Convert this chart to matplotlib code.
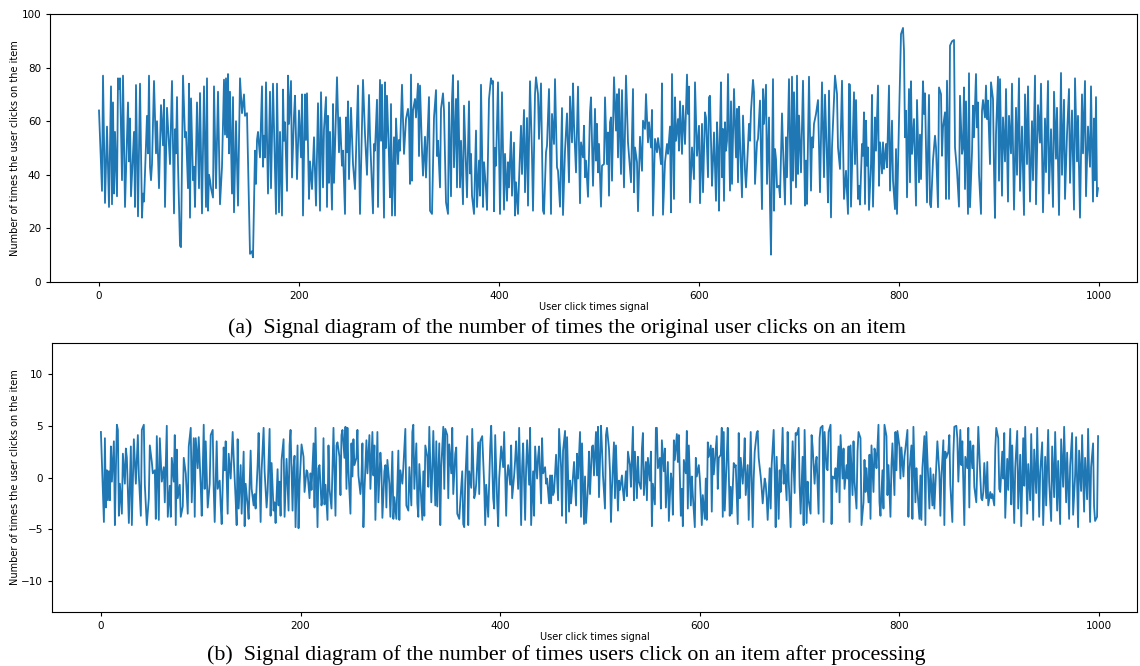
import matplotlib.pyplot as plt

# values (turning points of each trace)
x_raw = [0, 3, 4, 6, 8, 10, 12, 13, 14, 15, 16, 18, 19, 20, 21, 23, 24, 26, 29, 30, 31, 32, 35, 36, 37, 39,
         41, 43, 44, 45, 48, 49, 50, 51, 52, 53, 55, 57, 58, 60, 62, 64, 65, 66, 68, 71, 73, 75, 76, 77, 78, 79,
         81, 82, 84, 86, 87, 89, 90, 91, 92, 94, 95, 96, 98, 100, 101, 103, 105, 107, 108, 109, 110, 111, 112,
         114, 115, 117, 119, 121, 123, 125, 126, 127, 128, 129, 130, 131, 133, 134, 135, 137, 139, 141, 143,
         145, 146, 148, 151, 153, 154, 156, 157, 158, 159, 161, 163, 164, 165, 166, 167, 169, 171, 172, 174,
         177, 178, 180, 181, 183, 184, 185, 186, 188, 189, 190, 192, 193, 195, 196, 198, 200, 202, 203, 204,
         206, 207, 208, 210, 211, 213, 215, 217, 219, 221, 222, 224, 225, 227, 228, 229, 230, 231, 233, 234,
         235, 236, 238, 240, 241, 243, 244, 246, 247, 248, 249, 250, 252, 254, 256, 259, 261, 264, 266, 268,
         270, 271, 274, 275, 276, 278, 279, 281, 282, 283, 285, 286, 287, 288, 290, 291, 292, 293, 295, 296,
         297, 299, 300, 301, 303, 305, 307, 309, 310, 311, 312, 313, 314, 316, 317, 319, 320, 321, 323, 324,
         326, 327, 330, 331, 333, 335, 337, 338, 339, 341, 342, 344, 345, 347, 349, 350, 352, 353, 354, 355,
         357, 358, 359, 361, 362, 364, 365, 367, 368, 370, 371, 372, 373, 375, 377, 378, 380, 381, 382, 384,
         385, 387, 388, 390, 392, 393, 394, 395, 396, 397, 399, 401, 403, 405, 406, 408, 409, 410, 412, 413,
         415, 416, 417, 419, 420, 422, 423, 425, 426, 428, 429, 431, 433, 434, 436, 437, 439, 440, 442, 444,
         445, 447, 448, 450, 452, 453, 455, 456, 458, 459, 461, 463, 464, 466, 468, 470, 471, 473, 474, 475,
         477, 479, 481, 482, 484, 485, 486, 487, 489, 491, 492, 494, 496, 497, 498, 499, 500, 502, 503, 505,
         506, 508, 509, 510, 511, 512, 513, 515, 517, 518, 519, 520, 522, 523, 525, 527, 529, 532, 534, 535,
         536, 538, 539, 541, 543, 544, 546, 547, 549, 550, 552, 553, 554, 556, 558, 559, 561, 562, 563, 564,
         566, 568, 569, 571, 572, 573, 575, 576, 577, 579, 580, 581, 583, 584, 586, 588, 589, 590, 591, 593,
         595, 596, 598, 600, 601, 603, 604, 606, 607, 609, 610, 611, 613, 614, 615, 617, 618, 619, 620, 621,
         622, 623, 624, 625, 626, 627, 628, 629, 631, 632, 633, 635, 637, 638, 639, 640, 641, 643, 644, 646,
         647, 648, 650, 651, 652, 654, 655, 656, 658, 659, 661, 663, 664, 665, 667, 668, 670, 671, 672, 674,
         675, 676, 677, 678, 680, 681, 683, 684, 686, 687, 688, 690, 692, 693, 694, 695, 697, 698, 699, 700,
         702, 704, 706, 707, 708, 710, 712, 713, 714, 715, 717, 719, 721, 723, 725, 726, 728, 729, 730, 732,
         733, 736, 738, 739, 741, 743, 745, 747, 749, 750, 751, 752, 755, 756, 757, 759, 760, 761, 763, 764,
         765, 766, 767, 768, 769, 770, 772, 773, 774, 776, 777, 779, 780, 781, 783, 784, 785, 787, 788, 790,
         791, 793, 794, 796, 797, 798, 800, 802, 804, 805, 806, 807, 808, 810, 811, 812, 813, 815, 816, 817,
         818, 820, 821, 822, 824, 825, 826, 828, 830, 831, 832, 834, 836, 837, 839, 840, 842, 843, 844, 846,
         847, 848, 850, 851, 853, 855, 856, 858, 860, 861, 863, 864, 865, 866, 867, 869, 870, 871, 873, 874,
         875, 877, 878, 879, 880, 882, 883, 884, 886, 887, 888, 889, 891, 892, 894, 895, 896, 897, 899, 900,
         901, 903, 904, 906, 907, 909, 910, 912, 913, 915, 917, 918, 920, 921, 923, 925, 926, 928, 929, 931,
         933, 934, 936, 937, 939, 941, 942, 944, 946, 947, 949, 950, 952, 954, 955, 957, 958, 960, 962, 963,
         965, 966, 968, 970, 971, 973, 975, 976, 978, 979, 981, 983, 984, 986, 987, 989, 991, 992, 994, 995,
         996, 997, 998, 999]
y_raw = [64, 34, 77, 29.5, 58, 28, 73, 29, 67, 33, 56, 32, 76, 72, 76, 38, 77, 28, 67, 45, 61, 32, 56, 28, 73.5, 24.5,
         74, 24, 33, 30, 62, 48, 77, 43, 38, 44, 75, 48, 60, 35, 66, 51, 68, 28, 65, 44, 75, 25.6, 57, 48, 69, 44,
         13.5, 13, 77, 54, 56, 35, 74, 24, 68.5, 38, 43, 28, 67, 35, 70.5, 25.6, 73, 28, 76, 26.6, 40, 38, 35,
         31.5, 73, 35, 71, 29, 43, 75.5, 55, 76, 54, 77.6, 48, 71, 33, 69, 26, 60, 28.5, 76, 63,
         70, 62, 63, 10.5, 11.5, 9.2, 49, 36.6, 53, 56, 46.5, 73, 43, 54.6, 46.5, 74.5, 33, 71, 35, 74,
         25.4, 74, 26, 56, 24.8, 71.8, 52.7, 59.6, 34, 77, 59, 75, 39, 62, 69.5, 38.4, 64, 46.5, 70, 24.8,
         70, 53, 70.4, 31, 45, 34.7, 54, 28.5, 66.7, 26.6, 70.8, 35.3, 57, 69, 28, 62, 37, 56, 27, 66.4,
         37, 50, 76.4, 48.4, 61.4, 43.4, 49, 25.4, 61.4, 48.4, 67.4, 38.4, 65, 44, 34.7, 73.3, 25.4, 75.4, 55, 40,
         69.8, 54.6, 25.6, 51.5, 49, 68, 28, 75.4, 52.7, 73.6, 24, 74.5, 50, 69.5, 46.5, 31.6, 66.4, 24.8, 54, 24.8,
         61, 44, 53, 49, 73.6, 47.8, 60.8, 64.6, 60.2, 36.6, 77.4, 37.8, 64, 68.3, 61.4, 74, 47, 73.3, 49, 39.7,
         54.2, 39, 69, 26.6, 25.4, 61.4, 71.6, 47, 52.7, 35.3, 64.6, 70.4, 64, 29.7, 25.4, 67, 32, 68, 77.2, 42.8,
         68.3, 35.3, 75, 35.3, 52.7, 29, 65.8, 42.8, 31.6, 67.4, 40.5, 47.8, 32.2, 25.4, 56.5, 28, 45.3, 32.2, 73.6, 28,
         44.7, 34.7, 26.9, 68.3, 76, 74, 75, 26.4, 50, 43.4, 74.5, 25.4, 70.8, 27, 47.8, 30.3, 44.7, 35.3, 56, 32.2,
         52, 24.8, 37.2, 25.4, 37.8, 58.3, 40.3, 64.2, 33.5, 61.2, 28.5, 74.9, 47.1, 26.6, 70.1, 76.4, 70.1, 53.4, 74.1, 26.6,
         25.4, 48.4, 50.9, 72, 25.4, 62.7, 51.5, 75.7, 42.8, 41.5, 28.1, 64.9, 25, 49, 62.9, 37.2, 69.2, 52.1, 74.1, 59,
         40.9, 72.9, 29.4, 52.1, 46.5, 58.3, 39.1, 45.3, 31.8, 63.3, 68.9, 35.9, 64.6, 45.3, 59, 40.9, 51.5, 28.1, 43.4, 44,
         68.9, 44, 55.8, 32.2, 59.6, 61.4, 37.8, 76.4, 56.5, 70.1, 46.5, 72, 40.3, 71.6, 35.3, 77, 52.1, 37.2, 72, 33.5,
         50.2, 44.7, 26.4, 54.2, 41.5, 60.2, 57.1, 70.1, 52.1, 59.6, 50.2, 64.2, 24.8, 53.4, 48.4, 53.7, 47.8, 44, 74.1, 25.1,
         44.7, 51.5, 47.8, 58, 26, 77.6, 31, 68.9, 52.7, 60.8, 49, 67.4, 47.8, 65.8, 51.5, 77.4, 62.7, 72.9, 29.7, 50.2,
         38.4, 74.5, 47.1, 58.3, 29.4, 59, 33.5, 63.3, 61.4, 39.1, 68.9, 69.5, 35.9, 45.3, 55.8, 30.3, 59.6, 50.2, 26.6, 56.5,
         74.5, 39.1, 57.1, 30.3, 59.6, 49, 52.7, 77.6, 34.1, 67.4, 36.6, 72, 46.5, 64.6, 37.2, 65.4, 52.7, 31.6, 62.1, 41.5,
         35.3, 42.8, 59, 52.7, 63.9, 75.4, 70.8, 36.6, 52.1, 53.4, 67.7, 27.2, 72, 59, 73.6, 36.6, 61.4, 28.5, 10.2, 75.7,
         26.6, 49.6, 45.9, 35.3, 35.9, 31.6, 62.9, 50.2, 28.9, 54, 39.1, 75.7, 29.1, 76.6, 37.8, 70.8, 35.3, 77, 40.3, 62.1,
         40.9, 75.1, 28.5, 45.3, 29.1, 76.6, 34.1, 54, 50.2, 59, 62.7, 67.9, 33.5, 74.5, 39.1, 69.9, 45.3, 29.7, 71.4, 24.1,
         50.2, 77, 70.1, 50.2, 42.2, 75.1, 31, 41.5, 25.4, 73.9, 73.6, 28.1, 70.8, 44, 67.9, 31, 35.9, 28.9, 51.5, 47.1,
         63.3, 29.1, 60.2, 43.4, 50.2, 26.9, 44, 69.8, 28.1, 61.4, 49, 73.3, 35.9, 52.1, 40.5, 52.1, 42.2, 51.5, 42.8, 73.3,
         34.1, 60.2, 37.8, 27.2, 49.6, 25.4, 60.2, 92.5, 94.8, 86.3, 54, 63.9, 31.6, 72, 37.2, 74.9, 47.8, 60.8, 44, 28.5,
         67.9, 37.2, 55, 38.4, 74.9, 62.7, 70.4, 29.7, 69.8, 29.1, 27.9, 45.5, 54.6, 50.2, 27.9, 72.6, 70.1, 47.1, 57.7, 63.3,
         31, 75.1, 31, 88.2, 89.8, 90.3, 50.2, 41.5, 28.1, 69.5, 47.8, 50.2, 72.6, 34.7, 67.4, 25.4, 77.9, 27.9, 48.4, 65.8,
         54, 77.6, 57.7, 67, 40.3, 25.4, 63.9, 67.9, 61.4, 73.3, 60.8, 67.7, 44, 74.5, 68.3, 41.8, 23.9, 55.2, 76.6, 37.8,
         75.7, 32.2, 61.4, 45, 72, 30, 62, 48, 74, 27, 65, 40, 76, 34, 58, 25, 70, 44, 73, 30,
         60, 38, 77, 29, 66, 52, 74, 26, 61, 41, 75, 33, 57, 28, 71, 46, 65, 25, 78, 40,
         68, 31, 55, 72, 37, 64, 27, 76, 45, 62, 24, 70, 48, 75, 32, 58, 43, 73, 30, 61,
         38, 69, 32, 35]

x_proc = [0, 3, 4, 5, 6, 7, 8, 9, 10, 11, 13, 14, 15, 16, 17, 18, 19, 21, 22, 24, 25, 26, 28, 30, 31, 33, 35,
          37, 38, 40, 41, 43, 44, 46, 48, 49, 51, 52, 54, 55, 56, 58, 59, 61, 63, 64, 66, 67, 69, 70, 71, 73,
          74, 75, 76, 77, 79, 80, 82, 83, 85, 87, 88, 90, 91, 93, 94, 95, 97, 98, 100, 101, 103, 104, 105, 107,
          109, 110, 112, 113, 114, 116, 117, 119, 120, 121, 123, 124, 125, 127, 128, 130, 132, 133, 135, 136,
          137, 138, 140, 141, 143, 144, 145, 147, 148, 150, 151, 153, 154, 155, 157, 158, 160, 161, 163, 164,
          166, 167, 169, 170, 171, 173, 174, 175, 177, 178, 179, 180, 181, 183, 184, 186, 188, 189, 190, 192,
          193, 194, 195, 197, 198, 199, 201, 203, 204, 206, 207, 209, 210, 211, 213, 214, 215, 217, 218, 219,
          221, 222, 223, 224, 225, 227, 228, 229, 231, 233, 235, 236, 237, 239, 240, 241, 242, 244, 245, 246,
          247, 248, 250, 251, 252, 253, 254, 256, 257, 258, 260, 261, 262, 263, 264, 266, 267, 269, 270, 272,
          273, 274, 275, 277, 278, 280, 281, 282, 284, 285, 286, 287, 289, 290, 292, 293, 294, 296, 298, 299,
          300, 302, 303, 305, 306, 308, 309, 311, 312, 313, 314, 316, 317, 318, 319, 321, 322, 323, 324, 325,
          327, 328, 329, 331, 332, 333, 335, 336, 337, 339, 340, 341, 343, 344, 345, 347, 348, 349, 351, 352,
          353, 355, 356, 357, 359, 360, 362, 363, 364, 365, 367, 368, 369, 371, 372, 374, 375, 376, 378, 379,
          380, 382, 384, 385, 386, 388, 389, 390, 391, 393, 394, 395, 397, 398, 399, 401, 403, 404, 406, 407,
          408, 410, 411, 412, 414, 415, 416, 418, 419, 421, 422, 423, 425, 426, 427, 429, 430, 431, 433, 434,
          435, 437, 438, 439, 441, 442, 443, 445, 446, 447, 449, 450, 451, 452, 453, 454, 456, 458, 459, 461,
          462, 463, 465, 466, 467, 469, 470, 471, 473, 474, 476, 477, 478, 480, 481, 482, 484, 485, 486, 488,
          489, 490, 492, 493, 494, 496, 497, 498, 499, 501, 502, 503, 505, 506, 507, 509, 510, 511, 512, 514,
          515, 516, 518, 519, 520, 522, 523, 524, 526, 527, 528, 530, 531, 533, 534, 535, 537, 538, 539, 541,
          542, 543, 544, 546, 547, 548, 550, 551, 552, 553, 555, 556, 557, 558, 560, 561, 562, 564, 565, 566,
          568, 569, 571, 572, 573, 574, 575, 577, 578, 579, 581, 582, 583, 584, 586, 587, 588, 589, 591, 592,
          593, 595, 596, 597, 599, 600, 601, 602, 603, 605, 606, 607, 608, 609, 611, 612, 613, 614, 616, 617,
          618, 619, 621, 622, 623, 624, 625, 627, 628, 630, 631, 632, 634, 635, 636, 638, 639, 640, 641, 643,
          644, 645, 646, 648, 649, 650, 651, 653, 654, 655, 657, 658, 659, 661, 662, 663, 665, 666, 667, 668,
          670, 671, 672, 674, 675, 676, 677, 679, 680, 681, 683, 684, 685, 687, 688, 689, 691, 692, 693, 695,
          696, 697, 699, 700, 701, 703, 704, 705, 707, 708, 709, 711, 712, 713, 715, 716, 717, 719, 720, 721,
          723, 724, 725, 727, 728, 729, 731, 732, 733, 735, 736, 737, 739, 740, 741, 743, 744, 745, 747, 748,
          749, 750, 751, 753, 754, 755, 757, 758, 759, 761, 762, 764, 765, 766, 767, 769, 770, 771, 772, 774,
          775, 776, 777, 779, 780, 781, 783, 784, 785, 787, 788, 789, 791, 792, 793, 795, 796, 797, 798, 800,
          801, 802, 804, 805, 806, 808, 809, 810, 812, 813, 814, 816, 817, 818, 820, 821, 822, 823, 825, 826,
          827, 829, 830, 831, 833, 834, 835, 837, 838, 840, 841, 842, 844, 845, 846, 847, 849, 850, 851, 853,
          854, 855, 857, 858, 859, 861, 862, 863, 865, 866, 868, 869, 870, 871, 873, 874, 875, 877, 878, 879,
          881, 882, 883, 884, 885, 887, 888, 889, 891, 892, 893, 895, 896, 897, 899, 900, 901, 903, 904, 905,
          906, 908, 909, 911, 912, 913, 915, 916, 918, 919, 921, 922, 924, 925, 926, 928, 929, 931, 932, 934,
          935, 937, 938, 940, 941, 943, 944, 946, 947, 949, 950, 952, 953, 955, 956, 958, 959, 961, 962, 964,
          965, 967, 968, 970, 971, 973, 974, 976, 977, 979, 980, 982, 983, 985, 986, 988, 989, 991, 992, 994,
          995, 996, 998, 999]
y_proc = [4.4, -4.3, 3.8, -2.9, 0.7, -2.2, 0.6, -2.2, 3.0, -0.4, 3.5, -4.6, 0.7, 5.1, 4.6, -3.7, -0.6, -3.5, 2.3, -0.6, 2.8, 1.9, -4.4, 3.0, -4.6, 3.7, -0.6,
          4.1, 0.2, -3.7, 4.6, 5.1, -0.7, -4.6, -2.0, 3.1, 1.5, 0.4, 0.7, -4.0, 4.0, -4.1, 3.8, -0.4, 1.0, -2.4, 5.0, -3.8, -0.8, -3.8, 1.9, -0.4,
          4.1, -4.6, 2.7, -2.0, -0.7, -3.8, -2.8, 1.9, 0.4, -3.5, 3.0, 4.8, -2.4, 3.8, -3.8, 3.8, 0.9, 3.9, -0.8, -3.7, 5.1, -1.1, 3.5, -2.9,
          -0.6, 4.1, 4.6, -1.1, -4.3, 3.5, -1.1, -0.3, -2.7, -4.5, 2.9, 0.7, 3.5, -3.5, 2.3, -0.1, 4.4, 2.0, -2.2, -4.6,
          3.7, -3.0, 1.2, -3.5, 2.5, -4.7, -0.6, -2.7, -4.0, 2.6, -1.1, -2.7, -1.6, -3.0, 1.2, 4.3, -4.3, 0.7, 4.8, 0.6,
          -2.9, -1.4, 4.7, -3.7, 1.4, -3.2, -2.4, -4.4, 0.8, -2.7, -0.4, -3.7, 1.7, 3.7, -3.8, 1.8, -3.2, 3.1, 4.6, -3.2,
          1.0, 2.1, -4.8, 3.1, -4.9, -0.7, 3.2, 2.0, -1.4, 0.7, 0.5, -2.0, 0.4, -1.2, 3.3, -2.9, 4.8, -4.8, 0.9, 1.2,
          -2.7, -1.9, 3.8, -2.6, -0.7, -4.1, 3.1, -1.1, -3.0, 4.8, -3.7, 3.1, 3.4, 2.0, -1.7, 4.1, 4.6, 1.9, 4.9, -1.1,
          4.8, 0.7, -3.5, 3.3, 0.1, 3.7, 1.2, 1.9, 4.6, 0.2, -1.6, -0.1, 3.3, -4.8, -1.4, 3.6, 0.4, 4.1, -1.1, 4.4,
          0.2, 3.1, -4.1, 4.4, -2.4, 2.4, 0.9, -3.9, 0.6, 1.2, -2.9, 1.7, -0.6, -3.8, 2.5, -4.0, -1.9, -4.0, 2.6, -4.1,
          0.7, -0.6, 1.0, 4.7, -2.7, -3.2, 1.0, -2.7, 4.4, 5.1, -1.1, 3.3, -2.5, -3.8, 1.3, -2.4, -4.1, 0.6, -3.7, 3.1,
          2.0, -0.9, 4.9, -2.4, 0.7, 4.5, -2.7, 3.5, -2.8, 3.3, -4.6, 1.0, 4.9, -1.1, 4.7, 4.1, -2.0, 3.2, 0.4, 4.8,
          -1.6, 2.3, 2.9, -3.5, -4.0, -2.4, 0.6, -4.5, -4.8, -0.4, 4.0, -4.6, 0.6, -1.0, 4.7, -2.0, -1.6, -0.6, 3.4, -1.6,
          3.5, 4.0, -0.7, -4.6, -0.7, -3.8, -0.4, 2.9, 5.0, -2.0, -3.0, 4.1, -2.4, -4.7, -0.1, 3.0, 1.0, 4.4, -3.7, 0.1,
          1.2, -0.7, 3.1, -2.0, 0.2, 1.7, 3.5, -1.1, 4.8, -4.6, 1.0, 3.3, -4.1, 0.9, 3.6, -0.7, 4.8, -4.6, 0.6, -3.7,
          3.0, -0.1, 2.0, 3.0, -2.5, 3.8, 0.4, 1.0, -0.6, -0.1, -2.5, 0.2, -2.5, 0.2, -1.7, -1.4, 2.2, -2.2, 4.7, 1.0,
          -3.7, 2.6, 4.5, -4.4, 3.9, -3.3, -0.3, -2.5, 0.2, 1.5, -2.7, 2.3, -0.1, 4.4, -3.8, 3.3, -4.5, 0.1, -4.4, -0.7,
          2.5, -1.6, 3.0, 3.1, 0.2, 4.4, 0.2, 4.9, -1.9, 5.0, 2.8, 0.2, -3.0, 4.1, 4.8, 2.8, 0.6, -4.3, -1.1, 3.4,
          -2.0, 3.1, -3.2, -0.3, -1.2, 0.2, -1.2, -2.2, 0.6, -1.8, 2.5, 1.2, -0.9, 4.9, -2.2, 2.5, -2.0, 2.0, -0.4, -1.1,
          2.8, 4.3, -1.7, 1.5, -2.2, 1.9, -0.3, 2.5, -4.7, -0.6, -2.6, 4.8, 4.8, 0.9, 1.9, -3.0, 3.6, 0.6, 2.8, -2.9,
          1.5, -4.2, 0.4, -0.4, -3.6, 3.6, 1.7, 4.2, 1.5, 4.1, -3.7, -1.1, -4.7, 1.7, 0.4, 4.5, -3.0, 3.1, -2.7, 0.1,
          -1.7, -4.8, 1.9, 0.1, 1.2, -0.1, -2.0, -4.6, -1.7, -4.0, -0.1, -4.1, 3.4, 2.0, 3.1, -3.3, 2.8, 0.3, 2.8, 4.0,
          -1.1, 1.9, 2.2, 4.8, -3.8, 4.4, -3.2, 1.9, 4.8, -3.7, -0.9, -3.5, 1.4, 1.0, 1.2, -4.5, 4.3, -2.0, 1.9, -0.6,
          1.2, 3.8, -1.7, 1.2, -4.1, 0.1, 4.4, -4.8, -0.1, 2.5, 4.3, 4.5, 1.9, 0.1, -1.1, -2.5, -0.1, -0.6, -2.0, -4.1,
          0.9, -3.0, 1.2, 4.6, 0.4, -4.8, 2.0, -4.0, 0.7, -1.4, 4.8, -0.6, 1.2, -2.2, 4.4, -0.1, -4.8, 0.2, 3.5, -1.5,
          4.3, 4.1, 4.8, -0.8, -3.5, 2.0, -4.6, 4.6, -4.4, -0.4, -2.2, -3.5, 4.1, 3.0, -0.6, 1.2, 2.0, -3.5, 3.8, 4.8,
          5.0, -4.3, 4.4, 0.9, 0.7, 4.4, 5.1, -4.5, 0.1, -0.1, 0.9, -1.4, 3.0, -2.4, 4.1, -0.1, 2.8, -1.1, 1.2, -0.1,
          3.0, -4.3, 3.1, -1.7, 3.5, -0.4, -3.0, 2.5, 4.4, 3.8, -4.6, -2.4, 1.7, -1.4, 0.9, -2.4, 2.2, -4.0, 3.1, -1.4,
          2.8, 2.3, 0.9, 5.1, -2.4, -3.7, 0.7, -3.0, 5.1, 4.0, -1.7, 1.2, -3.8, 1.2, 3.3, -1.7, 4.4, 0.7, 4.5, 3.0,
          -0.1, 2.9, 0.1, 2.0, 2.8, 4.6, -3.8, 0.7, 3.1, -4.0, 4.9, -2.4, 0.9, -1.1, -4.0, 0.2, -4.1, 0.9, 4.0, -4.6,
          4.4, -0.4, -3.0, 0.9, -2.7, 0.3, -3.0, 1.4, 3.5, 0.4, -3.7, -0.1, 3.6, -4.6, 2.5, 1.9, 2.5, 4.1, -0.7, -4.3,
          2.2, 4.9, 5.0, 3.8, -0.4, 4.6, 1.2, 3.5, -4.6, 2.0, 0.9, 4.8, -2.9, 3.5, 0.9, 3.1, -0.9, -2.4, 1.4, 4.9,
          0.1, -2.0, -2.2, -1.4, 1.4, -2.0, 1.5, -2.7, -1.4, -2.0, -1.6, -2.7, 2.8, 4.8, 3.8, -1.1, -1.4, 2.5, -0.1, 4.3,
          -3.9, 1.8, -1.2, 4.7, -2.6, 3.1, -4.4, 0.9, 4.5, -3.0, 2.2, -4.7, 3.8, -0.8, 4.9, -3.5, 1.3, -2.2, 4.2, -4.1,
          2.7, -1.5, 4.8, -3.8, 0.5, 3.4, -4.6, 2.0, -2.7, 4.6, -0.4, -4.2, 3.0, -1.9, 4.4, -3.2, 1.6, -4.5, 3.7, -0.9,
          4.9, -2.4, 2.4, -4.0, 1.1, 4.3, -3.6, 0.2, 3.9, -4.8, 2.6, -1.3, 4.1, -3.3, 1.9, -2.1, 4.7, -4.3, 1.0, 3.3,
          -2.8, -4.2, -3.8, 4.0]

ylabel = "Number of times the user clicks on the item"
xlabel = "User click times signal"
cap_a = "(a)  Signal diagram of the number of times the original user clicks on an item"
cap_b = "(b)  Signal diagram of the number of times users click on an item after processing"

W, H = 1140, 666
fig = plt.figure(figsize=(W / 100, H / 100), dpi=100)

def box(l, t, r, b):
    return [l / W, 1 - b / H, (r - l) / W, (b - t) / H]

ax1 = fig.add_axes(box(50, 14, 1137, 282))
ax2 = fig.add_axes(box(52, 343, 1137, 612))

ax1.plot(x_raw, y_raw, color="#1f77b4", lw=1.3)
ax1.set_ylim(0, 100)
ax1.set_yticks([0, 20, 40, 60, 80, 100])

ax2.plot(x_proc, y_proc, color="#1f77b4", lw=1.3)
ax2.set_ylim(-13, 13)
ax2.set_yticks([-10, -5, 0, 5, 10])

for ax in (ax1, ax2):
    ax.set_xlim(-49, 1038)
    ax.set_xticks([0, 200, 400, 600, 800, 1000])
    ax.tick_params(labelsize=7.5, length=3)
    ax.set_xlabel(xlabel, fontsize=7, labelpad=1)
    ax.set_ylabel(ylabel, fontsize=7, labelpad=1)

fig.text(0.497, 1 - 328 / H, cap_a, ha="center", va="center",
         fontsize=15.8, family="Liberation Serif")
fig.text(0.497, 1 - 655 / H, cap_b, ha="center", va="center",
         fontsize=15.8, family="Liberation Serif")

fig.savefig("out.png", dpi=100)
